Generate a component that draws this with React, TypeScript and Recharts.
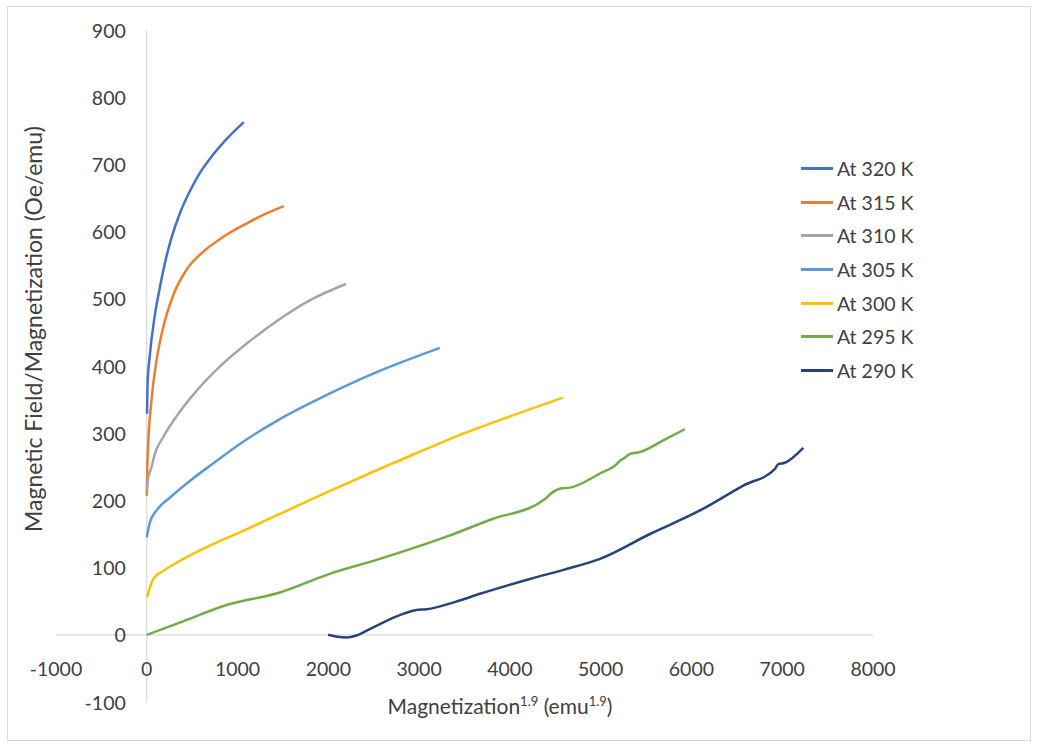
import { LineChart, Line, XAxis, YAxis, ReferenceLine } from 'recharts'

// Arrott-type plot: H/M vs M^1.9 at several temperatures
const labels = ['At 320 K', 'At 315 K', 'At 310 K', 'At 305 K', 'At 300 K', 'At 295 K', 'At 290 K']
const colors = ['#4472C4', '#ED7D31', '#A5A5A5', '#5B9BD5', '#FFC000', '#70AD47', '#264478']

const x320 = [3, 8, 33, 88, 143, 198, 275, 364, 474, 584, 716, 860, 1069]
const y320 = [329, 371, 415, 475, 516, 552, 592, 627, 660, 687, 712, 735, 763]

const x315 = [0, 5, 14, 51, 107, 180, 290, 437, 621, 841, 1098, 1300, 1510]
const y315 = [207, 244, 279, 348, 408, 457, 505, 543, 570, 592, 612, 626, 638]

const x310 = [3, 10, 51, 88, 180, 327, 548, 804, 1098, 1466, 1800, 2193]
const y310 = [215, 230, 249, 269, 294, 325, 363, 399, 433, 470, 498, 522]

const x305 = [0, 33, 107, 253, 474, 731, 1025, 1466, 2000, 2500, 3229]
const y305 = [145, 167, 185, 204, 229, 255, 284, 321, 358, 389, 427]

const x300 = [5, 30, 60, 90, 180, 364, 731, 1098, 1466, 2000, 2500, 3000, 3500, 4000, 4584]
const y300 = [56, 68, 80, 86, 95, 110, 135, 157, 180, 213, 243, 272, 300, 325, 353]

const x295 = [0, 400, 870, 1466, 2000, 2568, 3302, 3800, 4331, 4404, 4450, 4570, 4661, 4992, 5176, 5212, 5250, 5322, 5432, 5700, 5928]
const y295 = [0, 20, 44, 63, 90, 113, 146, 172, 197, 204, 210, 218, 219, 240, 254, 259, 262, 269, 272, 290, 306]

const x290 = [1998, 2100, 2200, 2311, 2450, 2568, 2800, 2972, 3082, 3400, 3670, 4220, 4600, 4992, 5543, 6094, 6571, 6920, 6957, 7030, 7232]
const y290 = [0, -3, -4, -1, 8, 16, 30, 37, 38, 49, 61, 83, 97, 113, 150, 185, 222, 247, 254, 256, 278]

const xTicks = [-1000, 0, 1000, 2000, 3000, 4000, 5000, 6000, 7000, 8000]
const yTicks = [-100, 0, 100, 200, 300, 400, 500, 600, 700, 800, 900]

const seriesX = [x320, x315, x310, x305, x300, x295, x290]
const seriesY = [y320, y315, y310, y305, y300, y295, y290]

const series = labels.map((name, i) => ({
  name,
  color: colors[i],
  data: seriesX[i].map((x, j) => ({ x, y: seriesY[i][j] })),
}))

const W = 1037
const H = 746
const AXIS_SIZE = 30
const margin = { top: 30, right: 164, bottom: 44 - AXIS_SIZE, left: 56 - AXIS_SIZE }
const plotLeft = 56
const plotW = W - 56 - margin.right
const plotH = H - margin.top - 44

// axes cross at (0, 0), labels sit next to them
const xZero = plotLeft + (plotW * (0 - -1000)) / 9000
const yZero = margin.top + (plotH * 900) / 1000

const FONT = 'Lato, "Noto Sans", sans-serif'
const TEXT = '#404040'

const renderXTick = (props: any) => (
  <text x={props.x} y={yZero + 34} textAnchor="middle" dominantBaseline="central" fontSize={19.5} fontFamily={FONT} fill={TEXT}>
    {props.payload.value}
  </text>
)

const renderYTick = (props: any) => (
  <text x={xZero - 21} y={props.y} textAnchor="end" dominantBaseline="central" fontSize={19.5} fontFamily={FONT} fill={TEXT}>
    {props.payload.value}
  </text>
)

export default function App() {
  return (
    <div style={{ position: 'absolute', left: 0, top: 0, width: W, height: H, background: '#fff' }}>
      <div style={{ position: 'absolute', left: 7, top: 6, width: 1022, height: 733, border: '1px solid #d9d9d9' }} />
      <div style={{ position: 'absolute', left: 0, top: 0 }}>
        <LineChart width={W} height={H} margin={margin}>
          <XAxis
            dataKey="x"
            type="number"
            domain={[-1000, 8000]}
            ticks={xTicks}
            interval={0}
            height={AXIS_SIZE}
            axisLine={false}
            tickLine={false}
            tick={renderXTick}
            allowDataOverflow
          />
          <YAxis
            type="number"
            domain={[-100, 900]}
            ticks={yTicks}
            interval={0}
            width={AXIS_SIZE}
            axisLine={false}
            tickLine={false}
            tick={renderYTick}
            allowDataOverflow
          />
          <ReferenceLine x={0} stroke="#d9d9d9" strokeWidth={1.2} />
          <ReferenceLine y={0} stroke="#d9d9d9" strokeWidth={1.2} />
          {series.map(s => (
            <Line
              key={s.name}
              name={s.name}
              data={s.data}
              dataKey="y"
              type="monotone"
              stroke={s.color}
              strokeWidth={2.5}
              dot={false}
              activeDot={false}
              isAnimationActive={false}
            />
          ))}
        </LineChart>
      </div>
      <div style={{ position: 'absolute', left: 801, top: 152, fontFamily: FONT, fontSize: 19.5, color: TEXT }}>
        {series.map(s => (
          <div key={s.name} style={{ display: 'flex', alignItems: 'center', height: 33.6 }}>
            <div style={{ width: 32, height: 3, background: s.color, marginRight: 4 }} />
            <span>{s.name}</span>
          </div>
        ))}
      </div>
      <div
        style={{
          position: 'absolute',
          left: 33,
          top: 329,
          transform: 'translate(-50%, -50%) rotate(-90deg)',
          whiteSpace: 'nowrap',
          fontFamily: FONT,
          fontSize: 23,
          color: TEXT,
        }}
      >
        Magnetic Field/Magnetization (Oe/emu)
      </div>
      <div
        style={{
          position: 'absolute',
          left: 500,
          top: 705,
          transform: 'translate(-50%, -50%)',
          whiteSpace: 'nowrap',
          fontFamily: FONT,
          fontSize: 21,
          color: TEXT,
        }}
      >
        Magnetization<sup style={{ fontSize: 13 }}>1.9</sup> (emu<sup style={{ fontSize: 13 }}>1.9</sup>)
      </div>
    </div>
  )
}
